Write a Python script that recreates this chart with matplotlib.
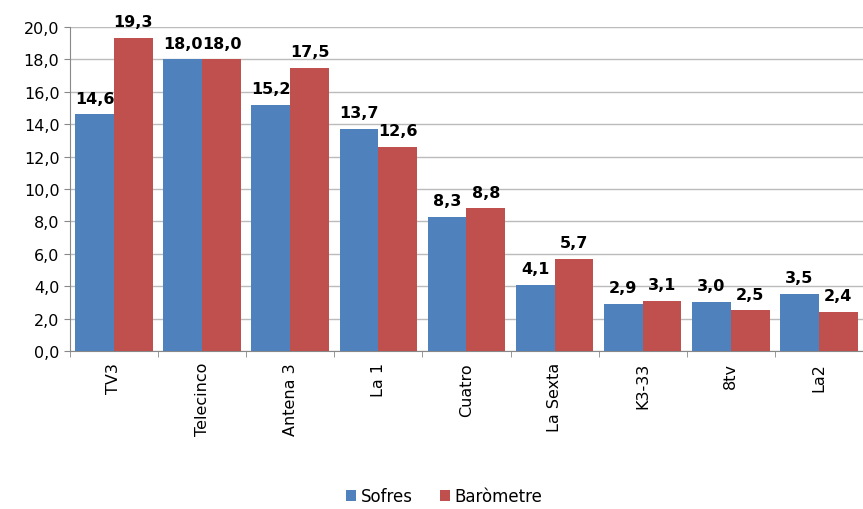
import numpy as np
import matplotlib
matplotlib.use('Agg')
from matplotlib import pyplot as plt
from matplotlib.ticker import FuncFormatter

channels = ['TV3', 'Telecinco', 'Antena 3', 'La 1', 'Cuatro', 'La Sexta', 'K3-33', '8tv', 'La2']
sofres = [14.6, 18.0, 15.2, 13.7, 8.3, 4.1, 2.9, 3.0, 3.5]
barometre = [19.3, 18.0, 17.5, 12.6, 8.8, 5.7, 3.1, 2.5, 2.4]

blue = '#4F81BD'
red = '#C0504D'

fig = plt.figure(figsize=(8.63, 5.10), dpi=100)
ax = fig.add_axes([0.081, 0.31, 0.919, 0.635])

x = np.arange(len(channels))
w = 0.44
b1 = ax.bar(x - w / 2, sofres, w, color=blue, label='Sofres', zorder=3)
b2 = ax.bar(x + w / 2, barometre, w, color=red, label='Baròmetre', zorder=3)

def fmt(v):
    return f"{v:.1f}".replace('.', ',')

for bars, vals in ((b1, sofres), (b2, barometre)):
    for bar, v in zip(bars, vals):
        ax.text(bar.get_x() + bar.get_width() / 2, v + 0.55, fmt(v),
                ha='center', va='bottom', fontsize=11.5, fontweight='bold', zorder=4)

ax.set_ylim(0, 20)
ax.set_yticks(np.arange(0, 21, 2))
ax.yaxis.set_major_formatter(FuncFormatter(lambda v, p: fmt(v)))
ax.set_xlim(-0.5, 8.39)
ax.set_xticks(x)
ax.set_xticklabels(channels, rotation=90, fontsize=11.5)
ax.set_xticks(np.arange(-0.5, 9, 1), minor=True)
ax.tick_params(axis='x', which='major', length=0, pad=8)
ax.tick_params(axis='x', which='minor', length=4, color='#888888')
ax.tick_params(axis='y', labelsize=11.5, length=4, color='#888888')
ax.grid(axis='y', color='#BBBBBB', linewidth=1, zorder=0)

for side in ('top', 'right'):
    ax.spines[side].set_visible(False)
ax.spines['left'].set_color('#888888')
ax.spines['bottom'].set_color('#888888')

fig.legend(handles=[b1, b2], loc='center', bbox_to_anchor=(0.515, 0.025), ncol=2,
           frameon=False, fontsize=12, handlelength=0.6, handleheight=0.6,
           handletextpad=0.3, columnspacing=1.6)

fig.savefig('out.png', dpi=100)
